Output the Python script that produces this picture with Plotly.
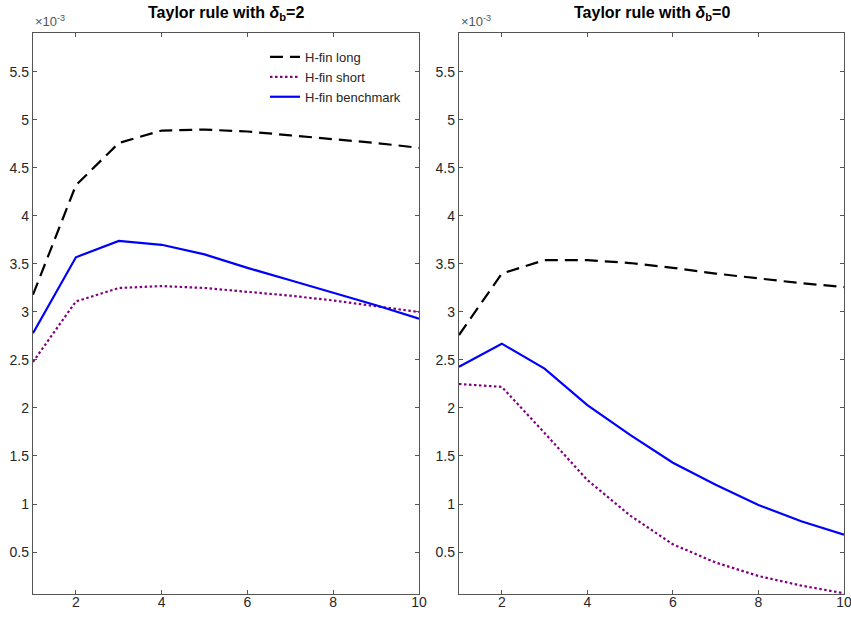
import plotly.graph_objects as go

# Horizon (quarters)
x = [1, 2, 3, 4, 5, 6, 7, 8, 9, 10]
scale = 1e-3

# Left panel: Taylor rule with delta_b = 2 (values in units of 10^-3)
left_long = [3.18, 4.32, 4.76, 4.89, 4.90, 4.88, 4.84, 4.80, 4.76, 4.71]
left_short = [2.48, 3.11, 3.25, 3.27, 3.25, 3.21, 3.17, 3.12, 3.06, 3.00]
left_bench = [2.78, 3.57, 3.74, 3.70, 3.60, 3.46, 3.33, 3.20, 3.07, 2.93]

# Right panel: Taylor rule with delta_b = 0
right_long = [2.76, 3.40, 3.54, 3.54, 3.51, 3.46, 3.40, 3.35, 3.30, 3.26]
right_short = [2.25, 2.22, 1.74, 1.25, 0.88, 0.58, 0.39, 0.25, 0.15, 0.07]
right_bench = [2.43, 2.67, 2.41, 2.03, 1.72, 1.43, 1.20, 0.99, 0.82, 0.68]

names = ["H-fin long", "H-fin short", "H-fin benchmark"]
colors = ["#000000", "#800080", "#0000FF"]
dashes = ["13px,7px", "2.5px,2.5px", "solid"]
titles = ["<b>Taylor rule with <i>δ</i><sub>b</sub>=2</b>",
          "<b>Taylor rule with <i>δ</i><sub>b</sub>=0</b>"]

ytick_vals = [0.5, 1, 1.5, 2, 2.5, 3, 3.5, 4, 4.5, 5, 5.5]
ytick_text = ["0.5", "1", "1.5", "2", "2.5", "3", "3.5", "4", "4.5", "5", "5.5"]
xtick_vals = [2, 4, 6, 8, 10]

fig = go.Figure()
panels = [(left_long, left_short, left_bench), (right_long, right_short, right_bench)]
for p, series in enumerate(panels):
    xa = "x" if p == 0 else "x2"
    ya = "y" if p == 0 else "y2"
    for i, s in enumerate(series):
        fig.add_trace(go.Scatter(
            x=x, y=[v * scale for v in s], mode="lines", name=names[i],
            line=dict(color=colors[i], dash=dashes[i], width=2.2),
            xaxis=xa, yaxis=ya, showlegend=(p == 0)))

W, H = 851, 621
axcol = "#555555"
tickfont = dict(size=14, color="#262626", family="Liberation Sans")
common_x = dict(range=[1, 10], tickvals=xtick_vals, ticks="inside", ticklen=4,
                tickcolor=axcol, showline=True, linecolor=axcol, linewidth=1.3,
                mirror="ticks", showgrid=False, zeroline=False, automargin=False,
                tickfont=tickfont, ticklabelstandoff=-5, ticklabeloverflow="allow")
common_y = dict(range=[0.0625 * scale, 5.906 * scale],
                tickvals=[v * scale for v in ytick_vals], ticktext=ytick_text,
                ticks="inside", ticklen=4, tickcolor=axcol, showline=True,
                linecolor=axcol, linewidth=1.3, mirror="ticks", showgrid=False,
                zeroline=False, automargin=False, tickfont=tickfont,
                ticklabeloverflow="allow")

xd1 = [33 / W, 419 / W]
xd2 = [459 / W, 844 / W]
yd = [1 - 594 / H, 1 - 33 / H]

fig.update_layout(
    width=W, height=H, margin=dict(l=0, r=0, t=0, b=0, autoexpand=False),
    paper_bgcolor="white", plot_bgcolor="white",
    font=dict(family="Liberation Sans", color="#262626"),
    xaxis=dict(domain=xd1, anchor="y", **common_x),
    yaxis=dict(domain=yd, anchor="x", **common_y),
    xaxis2=dict(domain=xd2, anchor="y2", **common_x),
    yaxis2=dict(domain=yd, anchor="x2", **common_y),
    legend=dict(x=265 / W, y=1 - 42 / H, xanchor="left", yanchor="top",
                bgcolor="rgba(255,255,255,0)", borderwidth=0,
                font=dict(size=13, color="#262626", family="Liberation Sans"),
                tracegroupgap=0, itemwidth=30),
    showlegend=True,
)

annotations = []
for p, xd in enumerate([xd1, xd2]):
    annotations.append(dict(text=titles[p], x=(xd[0] + xd[1]) / 2, y=1 - 14 / H,
                            xref="paper", yref="paper", showarrow=False,
                            xanchor="center", yanchor="middle",
                            font=dict(size=16, color="#000000", family="Liberation Sans")))
    annotations.append(dict(text="×10<sup>-3</sup>", x=xd[0], y=1 - 31 / H,
                            xref="paper", yref="paper", showarrow=False,
                            xanchor="left", yanchor="bottom",
                            font=dict(size=13, color="#555555", family="Liberation Sans")))
fig.update_layout(annotations=annotations)

fig.write_html("out.html", config={"displayModeBar": False},
               post_script="document.body.style.margin='0px';")
